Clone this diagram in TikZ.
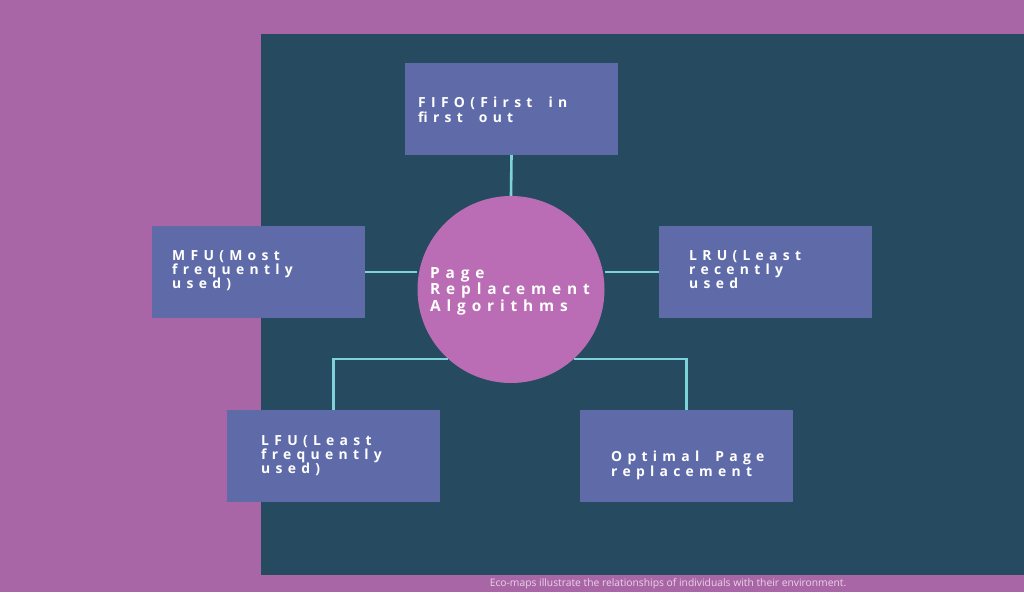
\documentclass[tikz,border=0pt]{standalone}
\usepackage{fontspec}
\newfontfamily\boxfont[LetterSpace=38,WordSpace=1.8]{Open Sans}
\newfontfamily\footfont{Open Sans}
\definecolor{bgpurple}{HTML}{A966A6}
\definecolor{darkpanel}{HTML}{264A5F}
\definecolor{circfill}{HTML}{BA6DB4}
\definecolor{boxfill}{HTML}{5F6BA8}
\definecolor{linkcol}{HTML}{7ED3DA}
\definecolor{foottext}{HTML}{EBD3E9}
\tikzset{
  algbox/.style={fill=boxfill, draw=none, minimum width=213pt, minimum height=92pt, inner sep=0pt},
  boxtext/.style={anchor=north west, text=white, align=left, inner sep=0pt,
    font=\boxfont\bfseries\fontsize{13.9}{14.3}\selectfont},
  circtext/.style={boxtext, font=\boxfont\bfseries\fontsize{15.4}{15}\selectfont},
  link/.style={draw=linkcol, line width=2.6pt},
}
\begin{document}
\begin{tikzpicture}[x=1pt,y=-1pt]
\fill[bgpurple] (0,0) rectangle (1024,592);
\useasboundingbox (0,0) rectangle (1024,592);
\fill[darkpanel] (261,34) rectangle (1024,575);

\node[algbox] (fifo) at (511.5,109) {};
\node[algbox] (mfu) at (258.5,272) {};
\node[algbox] (lru) at (765.5,272) {};
\node[algbox] (lfu) at (333.5,456) {};
\node[algbox] (opt) at (686.5,456) {};

\node[circle, fill=circfill, minimum size=187pt, inner sep=0pt] (circ) at (511,289.5) {};

\draw[link] (fifo.south) -- (circ.north);
\draw[link] (mfu.east) -- (circ.west |- mfu.east);
\draw[link] (lru.west) -- (circ.east |- lru.east);
\draw[link] (lfu.north) |- (circ.228.8);
\draw[link] (opt.north) |- (circ.-48.8);

\node[boxtext] (fifot) at (418,97) {FIFO(First in\\first out};
\node[boxtext] (mfut) at (172,250) {MFU(Most\\frequently\\used)};
\node[boxtext] (lrut) at (689,250) {LRU(Least\\recently\\used};
\node[boxtext] (lfut) at (261,435) {LFU(Least\\frequently\\used)};
\node[boxtext] (optt) at (611,451) {Optimal Page\\replacement};
\node[circtext] (circt) at (430,267) {Page\\Replacement\\Algorithms};

\node[font=\footfont\fontsize{10.3}{12}\selectfont, text=foottext, inner sep=0pt, anchor=base] (foot) at (668,586) {Eco-maps illustrate the relationships of individuals with their environment.};
\end{tikzpicture}
\end{document}
